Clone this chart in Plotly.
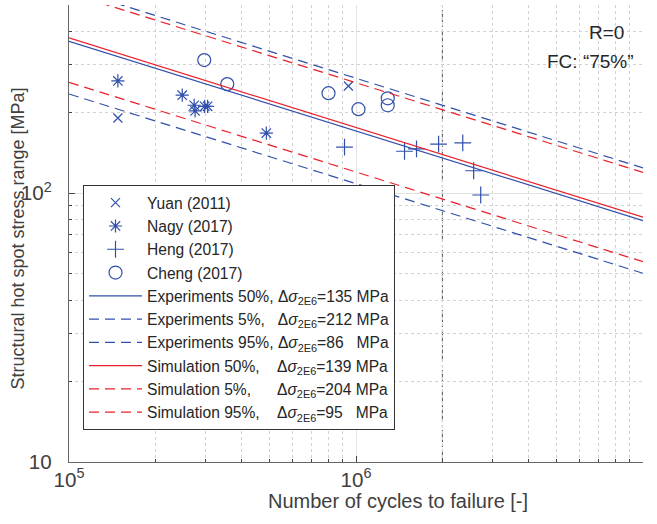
import plotly.graph_objects as go

# ---------------- data ----------------
yuan_N = [1.48e5, 9.41e5]
yuan_S = [190, 250]

nagy_N = [1.48e5, 2.48e5, 2.73e5, 2.75e5, 2.97e5, 3.04e5, 4.87e5]
nagy_S = [261, 231, 212, 202, 210, 210, 167]

heng_N = [9.12e5, 1.476e6, 1.625e6, 1.94e6, 2.355e6, 2.57e6, 2.72e6]
heng_S = [148, 143, 146, 152, 153.5, 121, 98.3]

cheng_N = [2.96e5, 3.56e5, 8.02e5, 1.02e6, 1.29e6, 1.29e6]
cheng_S = [312, 254, 235, 205, 225, 212]

# S-N curves: characteristic stress range at 2E6 cycles, slope m
N_REF = 2e6
SLOPE_M = 3
curve_N = [1e5, 1e7]
exp_labels = ["Experiments 50%,", "Experiments 5%,", "Experiments 95%,"]
exp_ds = [135, 212, 86]
sim_labels = ["Simulation 50%,", "Simulation 5%,", "Simulation 95%,"]
sim_ds = [139, 204, 95]

BLUE = "#3050aa"
RED = "#e8202a"
NB = "\u00a0"

fig = go.Figure()

# markers
marker_sets = [
    ("Yuan (2011)", yuan_N, yuan_S, "x-thin-open", 9),
    ("Nagy (2017)", nagy_N, nagy_S, "asterisk-open", 11),
    ("Heng (2017)", heng_N, heng_S, "cross-thin-open", 12),
    ("Cheng (2017)", cheng_N, cheng_S, "circle-open", 13),
]
for name, xs, ys, sym, sz in marker_sets:
    fig.add_trace(go.Scatter(
        x=xs, y=ys, mode="markers", name=name,
        marker=dict(symbol=sym, size=sz, color=BLUE,
                    line=dict(color=BLUE, width=1.2)),
    ))

# padding spaces so that the delta-sigma parts line up
exp_pad = [1, 3, 1]
sim_pad = [4, 6, 4]


def curve(ds):
    return [ds * (N_REF / n) ** (1.0 / SLOPE_M) for n in curve_N]


def label(prefix, pad, ds):
    val = str(ds)
    tail = NB * (1 + 2 * (3 - len(val)))
    return (prefix + NB * pad + "Δ<i>σ</i><sub>2E6</sub>=" + val + tail + "MPa")


for i, (lab, ds) in enumerate(zip(exp_labels, exp_ds)):
    fig.add_trace(go.Scatter(
        x=curve_N, y=curve(ds), mode="lines", name=label(lab, exp_pad[i], ds),
        line=dict(color=BLUE, width=1.2, dash="solid" if i == 0 else "10px,6px"),
    ))
for i, (lab, ds) in enumerate(zip(sim_labels, sim_ds)):
    fig.add_trace(go.Scatter(
        x=curve_N, y=curve(ds), mode="lines", name=label(lab, sim_pad[i], ds),
        line=dict(color=RED, width=1.2, dash="solid" if i == 0 else "10px,6px"),
    ))

# reference line at 2E6 cycles
fig.add_shape(type="line", xref="x", yref="paper", x0=N_REF, x1=N_REF, y0=0, y1=1,
              line=dict(color="#555555", width=1, dash="12px,3px,2px,3px"), layer="below")

FONT = "Liberation Sans, Arial, Helvetica, sans-serif"

axis_common = dict(
    type="log", dtick=1, exponentformat="power", showexponent="all",
    ticks="inside", ticklen=6, tickcolor="#444444",
    showline=True, linecolor="#666666", linewidth=1, mirror=False,
    showgrid=True, gridcolor="#e2e2e2", gridwidth=1,
    zeroline=False, automargin=False,
    tickfont=dict(family=FONT, size=16.5, color="#404040"),
    minor=dict(dtick="D1", ticks="inside", ticklen=3, tickcolor="#444444",
               showgrid=True, gridcolor="#d2d2d2", griddash="dot", gridwidth=1),
)

fig.update_layout(
    width=657, height=524,
    margin=dict(l=69, r=14, t=5, b=62),
    paper_bgcolor="white", plot_bgcolor="white",
    font=dict(family=FONT, size=16, color="#262626"),
    xaxis=dict(range=[5, 7], **axis_common),
    yaxis=dict(range=[1, 2.69897], ticklabelstandoff=13, **axis_common),
    legend=dict(x=0.0244, y=0.606, xanchor="left", yanchor="top",
                bgcolor="white", bordercolor="#333333", borderwidth=1,
                font=dict(family=FONT, size=15.6, color="#262626"),
                tracegroupgap=0, itemwidth=53),
    showlegend=True,
    annotations=[
        dict(text="Number of cycles to failure [-]", xref="paper", yref="paper",
             x=0.573, y=-0.086, xanchor="center", yanchor="middle", showarrow=False,
             font=dict(family=FONT, size=20, color="#404040")),
        dict(text="Structural hot spot stress range [MPa]", xref="paper", yref="paper",
             x=-0.088, y=0.49, xanchor="center", yanchor="middle", showarrow=False,
             textangle=-90, font=dict(family=FONT, size=18, color="#404040")),
        dict(text="R=0", xref="paper", yref="paper", x=0.97, y=0.94,
             xanchor="right", yanchor="middle", showarrow=False,
             font=dict(family=FONT, size=19, color="#262626")),
        dict(text="FC: \u201c75%\u201d", xref="paper", yref="paper", x=0.987, y=0.876,
             xanchor="right", yanchor="middle", showarrow=False,
             font=dict(family=FONT, size=19, color="#262626")),
    ],
)

fig.write_html("out.html", config={"displayModeBar": False},
               post_script="document.body.style.margin='0';")
